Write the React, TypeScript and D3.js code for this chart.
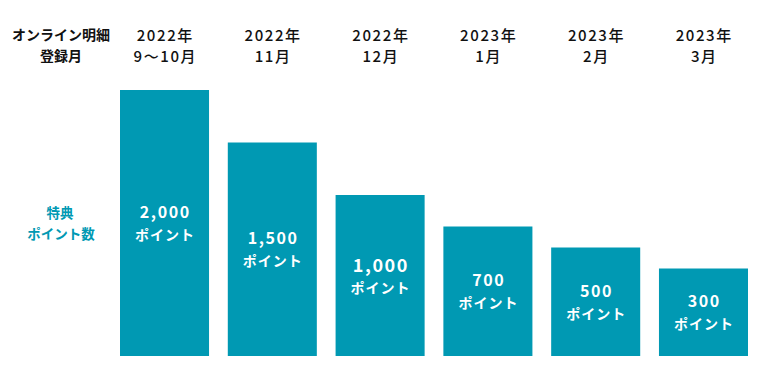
import React from "react";
import * as d3 from "d3";

const periodsYear = ["2022年", "2022年", "2022年", "2023年", "2023年", "2023年"];
const periodsMonth = ["9〜10月", "11月", "12月", "1月", "2月", "3月"];
const points = [2000, 1500, 1000, 700, 500, 300];
const rowHeaderTop = ["オンライン明細", "登録月"];
const rowHeaderValue = ["特典", "ポイント数"];
const unitLabel = "ポイント";

const W = 764;
const H = 380;
const TEAL = "#0099b3";
const FONT = "'Noto Sans CJK JP', 'Noto Sans', sans-serif";

export default function App() {
  const x = d3
    .scaleBand<number>()
    .domain(points.map((_, i) => i))
    .range([120, 748])
    .paddingInner(0.174)
    .paddingOuter(0);
  const bottom = 356;
  const y = d3.scaleLinear().domain([0, 2000]).range([300, 90]);
  const fmt = d3.format(",");

  return (
    <svg
      width={W}
      height={H}
      style={{ position: "absolute", left: 0, top: 0, background: "#fff" }}
      fontFamily={FONT}
    >
      <g fontWeight={700} fontSize={14} fill="#111" textAnchor="middle">
        <text x={61} y={40}>{rowHeaderTop[0]}</text>
        <text x={61} y={61}>{rowHeaderTop[1]}</text>
      </g>
      <g fontWeight={700} fontSize={13.5} fill={TEAL} textAnchor="middle">
        <text x={60} y={218}>{rowHeaderValue[0]}</text>
        <text x={61} y={238.5}>{rowHeaderValue[1]}</text>
      </g>
      {points.map((v, i) => {
        const cx = (x(i) as number) + x.bandwidth() / 2;
        const top = y(v);
        const mid = (top + bottom) / 2;
        const big = v === 1000;
        return (
          <g key={i}>
            <text
              x={cx + 0.8}
              y={40.5}
              textAnchor="middle"
              fontSize={15}
              fontWeight={500}
              letterSpacing={1.6}
              fill="#111"
            >
              {periodsYear[i]}
            </text>
            <text
              x={cx + 0.8}
              y={61.5}
              textAnchor="middle"
              fontSize={15}
              fontWeight={500}
              letterSpacing={1.6}
              fill="#111"
            >
              {periodsMonth[i]}
            </text>
            <rect
              x={x(i)}
              y={top}
              width={x.bandwidth()}
              height={bottom - top}
              fill={TEAL}
            />
            <text
              x={cx + 0.8}
              y={mid - 5 + (big ? 1 : 0)}
              textAnchor="middle"
              fontSize={big ? 18 : 16}
              fontWeight={700}
              letterSpacing={1.6}
              fill="#fff"
            >
              {fmt(v)}
            </text>
            <text
              x={cx + 0.5}
              y={mid + 17}
              textAnchor="middle"
              fontSize={14}
              fontWeight={700}
              letterSpacing={1}
              fill="#fff"
            >
              {unitLabel}
            </text>
          </g>
        );
      })}
    </svg>
  );
}
